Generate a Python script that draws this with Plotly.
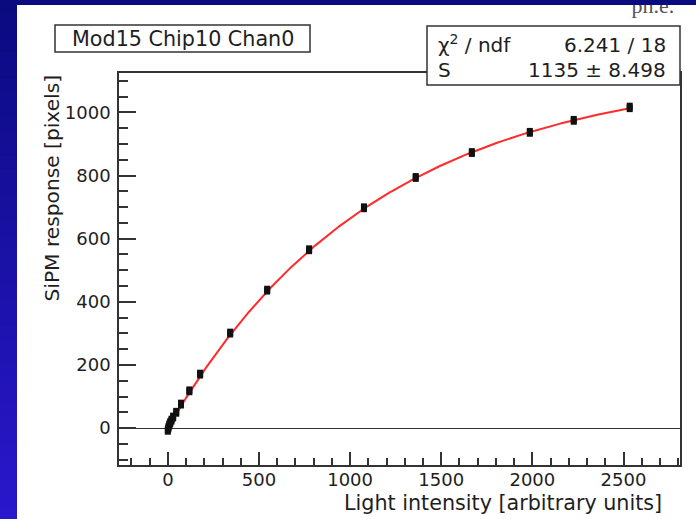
import numpy as np
import plotly.graph_objects as go

W, H = 696, 519

# Measured SiPM response versus injected light
light = [0, 3, 8, 13, 20, 29, 46, 72, 118, 177, 342, 545, 775, 1076, 1360, 1668, 1986, 2227, 2534]
response = [-7, 1, 10, 17, 25, 35, 50, 76, 118, 171, 301, 437, 565, 698, 794, 873, 937, 975, 1016]
response_err = [14, 14, 14, 14, 14, 14, 14, 14, 14, 14, 14, 14, 14, 14, 14, 14, 14, 14, 15]

# Fit result: saturation model S * (1 - exp(-x / S))
S_fit = 1135.0
S_err = 8.498
chi2, ndf = 6.241, 18

x_ticks = [0, 500, 1000, 1500, 2000, 2500]
y_ticks = [0, 200, 400, 600, 800, 1000]
x_range = [-268, 2810]
y_range = [-117, 1125]

TXT = "#1e1e1e"
FONT = "DejaVu Sans"


def fx(px):
    return px / W


def fy(py):
    return 1 - py / H


# frame position in pixels
L, R, T, B = 119, 680, 73, 465

fig = go.Figure()

x_fit = np.linspace(0, max(light), 400)
y_fit = S_fit * (1 - np.exp(-x_fit / S_fit))
fig.add_trace(go.Scatter(x=x_fit, y=y_fit, mode="lines",
                         line=dict(color="#ff2a2a", width=2), hoverinfo="skip"))

fig.add_trace(go.Scatter(
    x=light, y=response, mode="markers",
    marker=dict(symbol="square", size=6, color="#111111", line=dict(width=0)),
    error_y=dict(type="data", array=response_err, thickness=6, width=0, color="#111111"),
))

# clipped header text at the very top of the panel
fig.add_trace(go.Scatter(
    x=[653], y=[7.5], mode="text", text=["ph.e."],
    textfont=dict(family="Liberation Serif", size=22, color="#555555"),
    xaxis="x2", yaxis="y2", cliponaxis=True, hoverinfo="skip",
))

axis_common = dict(
    showline=True, linecolor="#333333", linewidth=1.5, mirror=True,
    ticks="inside", tickcolor="#333333", tickwidth=1.5,
    showgrid=False,
    tickfont=dict(family=FONT, size=18, color=TXT),
)

fig.update_layout(
    width=W, height=H,
    margin=dict(l=0, r=0, t=0, b=0),
    paper_bgcolor="white", plot_bgcolor="rgba(0,0,0,0)",
    showlegend=False,
    xaxis=dict(domain=[fx(L), fx(R)], range=x_range, anchor="y",
               tickvals=x_ticks, ticktext=[str(v) for v in x_ticks],
               ticklen=13, zeroline=False,
               minor=dict(dtick=100, tick0=0, ticks="inside", ticklen=7,
                          tickcolor="#333333", tickwidth=1.5),
               ticklabelstandoff=-2,
               **axis_common),
    yaxis=dict(domain=[fy(B), fy(T)], range=y_range, anchor="x",
               tickvals=y_ticks, ticktext=[str(v) for v in y_ticks],
               ticklen=17, zeroline=True, zerolinecolor="#333333", zerolinewidth=1.2,
               minor=dict(dtick=50, tick0=0, ticks="inside", ticklen=9,
                          tickcolor="#333333", tickwidth=1.5),
               ticklabelstandoff=3,
               **axis_common),
    xaxis2=dict(domain=[fx(17), 1], range=[17, W], visible=False, anchor="y2"),
    yaxis2=dict(domain=[0, fy(5)], range=[H, 5], visible=False, anchor="x2"),
)

shapes = []
# blue slide background: left strip with vertical gradient, top band
top_rgb = np.array([11, 11, 128])
bot_rgb = np.array([42, 24, 204])
n = 40
for i in range(n):
    t = (i + 0.5) / n
    c = (top_rgb * (1 - t) + bot_rgb * t).astype(int)
    shapes.append(dict(type="rect", xref="paper", yref="paper",
                       x0=0, x1=fx(17), y0=fy(H * (i + 1) / n) - 0.002, y1=fy(H * i / n),
                       fillcolor="rgb(%d,%d,%d)" % tuple(c), line=dict(width=0), layer="below"))
shapes.append(dict(type="rect", xref="paper", yref="paper",
                   x0=fx(17), x1=1, y0=fy(5), y1=1,
                   fillcolor="rgb(11,11,128)", line=dict(width=0), layer="below"))

# title box and statistics box
shapes.append(dict(type="rect", xref="paper", yref="paper",
                   x0=fx(55), x1=fx(310), y0=fy(52), y1=fy(25),
                   fillcolor="white", line=dict(color="#333333", width=1.5), layer="above"))
shapes.append(dict(type="rect", xref="paper", yref="paper",
                   x0=fx(427), x1=fx(R), y0=fy(85), y1=fy(26),
                   fillcolor="white", line=dict(color="#333333", width=1.5), layer="above"))
fig.update_layout(shapes=shapes)


def text_font(size):
    return dict(family=FONT, size=size, color=TXT)


annotations = [
    dict(text="Mod15 Chip10 Chan0", x=fx(183.5), y=fy(38.5), xanchor="center", yanchor="middle",
         font=text_font(20.7)),
    dict(text="\u03c7<sup>2</sup> / ndf", x=fx(436), y=fy(44), xanchor="left", yanchor="middle",
         font=text_font(20)),
    dict(text="%.3f / %d" % (chi2, ndf), x=fx(668), y=fy(45), xanchor="right", yanchor="middle",
         font=text_font(20)),
    dict(text="S", x=fx(436), y=fy(70), xanchor="left", yanchor="middle", font=text_font(20)),
    dict(text="%d \u00b1 %.3f" % (round(S_fit), S_err), x=fx(668), y=fy(70), xanchor="right",
         yanchor="middle", font=text_font(20)),
    dict(text="Light intensity [arbitrary units]", x=fx(664), y=fy(503), xanchor="right",
         yanchor="middle", font=text_font(20.7)),
    dict(text="SiPM response [pixels]", x=fx(52), y=fy(73), xanchor="center", yanchor="top",
         textangle=-90, font=text_font(20.2)),
]
for a in annotations:
    a.update(xref="paper", yref="paper", showarrow=False)
fig.update_layout(annotations=annotations)

fig.write_html("out.html")
